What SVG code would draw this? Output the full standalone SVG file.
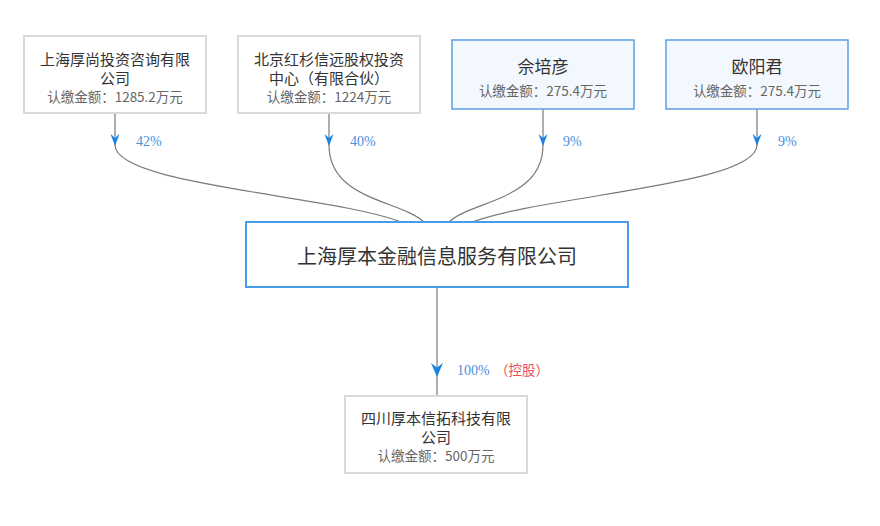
<svg xmlns="http://www.w3.org/2000/svg" width="880" height="526" viewBox="0 0 880 526">
<style>
.box{fill:#ffffff;stroke:#d9d9d9;stroke-width:2}
.pbox{fill:#f3f8fe;stroke:#5d9fe4;stroke-width:1.5}
.main{fill:#ffffff;stroke:#4a9be8;stroke-width:2}
.nm{font-family:"Noto Sans CJK SC","Noto Sans",sans-serif;font-size:15px;fill:#333333;text-anchor:middle;dominant-baseline:central}
.pn{font-family:"Noto Sans CJK SC","Noto Sans",sans-serif;font-size:17px;fill:#333333;text-anchor:middle;dominant-baseline:central}
.mn{font-family:"Noto Sans CJK SC","Noto Sans",sans-serif;font-size:20px;fill:#333333;text-anchor:middle;dominant-baseline:central}
.sub{font-family:"Noto Sans CJK SC","Noto Sans",sans-serif;font-size:13.5px;fill:#666666;text-anchor:middle;dominant-baseline:central}
.pct{font-family:"Liberation Serif","Noto Sans CJK SC",serif;font-size:14px;fill:#4a90e2;dominant-baseline:central}
.ctl{font-family:"Noto Sans CJK SC",sans-serif;font-size:13.5px;fill:#e8505b;dominant-baseline:central}
.ln{fill:none;stroke:#7a7a7a;stroke-width:1.2}
.ah{fill:#1a84e6}
</style>
<rect width="880" height="526" fill="#ffffff"/>
<g id="connectors">
<path class="ln" d="M115,113 L115,145 C115,185 330,195 401,222"/>
<path class="ln" d="M329,113 L329,145 C329,200 400,200 424,222"/>
<path class="ln" d="M543,109 L543,145 C543,200 473,200 449,222"/>
<path class="ln" d="M757,109 L757,145 C757,185 545,195 472,222"/>
<path class="ln" d="M437,287 L437,396"/>
<path class="ah" d="M115,146 L110.5,134 L115,138 L119.5,134 Z"/>
<path class="ah" d="M329,146 L324.5,134 L329,138 L333.5,134 Z"/>
<path class="ah" d="M543,146 L538.5,134 L543,138 L547.5,134 Z"/>
<path class="ah" d="M757,146 L752.5,134 L757,138 L761.5,134 Z"/>
<path class="ah" d="M437,377 L431,363 L437,367.5 L443,363 Z"/>
<text class="pct" x="136" y="141">42%</text>
<text class="pct" x="350" y="141">40%</text>
<text class="pct" x="563" y="141">9%</text>
<text class="pct" x="778" y="141">9%</text>
<text class="pct" x="457" y="370">100%</text>
<text class="ctl" x="495" y="369">（控股）</text>
</g>
<g id="node1">
<rect class="box" x="24" y="36" width="182" height="77"/>
<text class="nm" x="115" y="58">上海厚尚投资咨询有限</text>
<text class="nm" x="115" y="77">公司</text>
<text class="sub" x="115" y="96">认缴金额：1285.2万元</text>
</g>
<g id="node2">
<rect class="box" x="238" y="36" width="182" height="77"/>
<text class="nm" x="329" y="58">北京红杉信远股权投资</text>
<text class="nm" x="329" y="77">中心（有限合伙）</text>
<text class="sub" x="329" y="96">认缴金额：1224万元</text>
</g>
<g id="node3">
<rect class="pbox" x="452" y="40" width="182" height="69"/>
<text class="pn" x="543" y="65">佘培彦</text>
<text class="sub" x="543" y="90">认缴金额：275.4万元</text>
</g>
<g id="node4">
<rect class="pbox" x="666" y="40" width="182" height="69"/>
<text class="pn" x="757" y="65">欧阳君</text>
<text class="sub" x="757" y="90">认缴金额：275.4万元</text>
</g>
<g id="main">
<rect class="main" x="246" y="222" width="382" height="65"/>
<text class="mn" x="437" y="255">上海厚本金融信息服务有限公司</text>
</g>
<g id="node5">
<rect class="box" x="345" y="396" width="182" height="77"/>
<text class="nm" x="436" y="417">四川厚本信拓科技有限</text>
<text class="nm" x="436" y="436">公司</text>
<text class="sub" x="436" y="455">认缴金额：500万元</text>
</g>
</svg>
